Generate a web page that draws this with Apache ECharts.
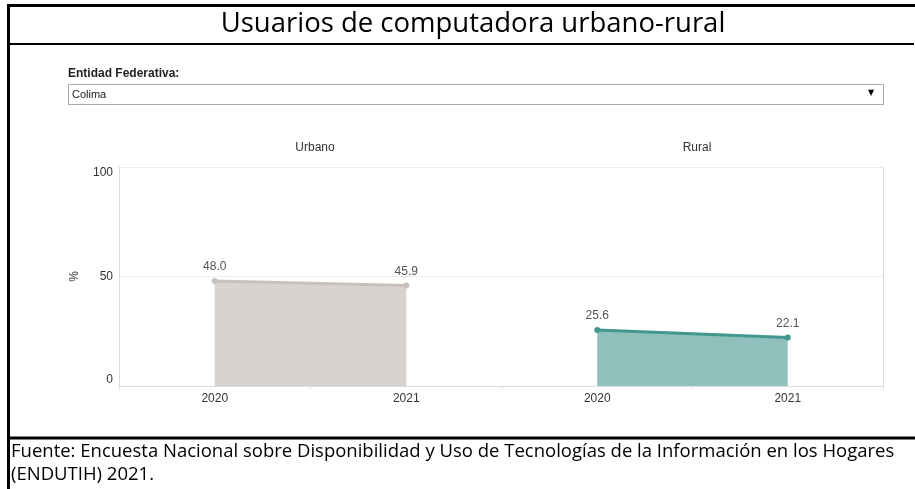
<!DOCTYPE html>
<html><head><meta charset="utf-8">
<script src="https://cdn.jsdelivr.net/npm/echarts@6/dist/echarts.min.js"></script>
<style>html,body{margin:0;padding:0;background:#fff}#c{width:915px;height:489px}</style>
</head><body><div id="c"></div>
<script>
var years = ['2020', '2021'];
var urbano = [48.0, 45.9];
var rural = [25.6, 22.1];
var yTicks = [0, 50, 100];
var facetNames = ['Urbano', 'Rural'];
var entidad = 'Colima';

var chart = echarts.init(document.getElementById('c'));
var labelFmt = function (p) { return p.value.toFixed(1); };
var gridTop = 167, gridBottom = 103;
function xAx(i) {
  return {
    type: 'category', gridIndex: i, data: years, boundaryGap: true,
    axisLine: { lineStyle: { color: '#dcdcdc' } },
    axisTick: { show: true, length: 4, lineStyle: { color: '#e3e3e3' } },
    axisLabel: { color: '#333', fontSize: 12, fontFamily: 'Liberation Sans', margin: 7 }
  };
}
chart.setOption({
  animation: false,
  title: [
    { text: 'Usuarios de computadora urbano-rural', left: 468, top: 5, textAlign: 'center',
      textStyle: { fontFamily: 'Open Sans', fontWeight: 'normal', fontSize: 27.5, color: '#000' } },
    { text: facetNames[0], left: 310, top: 137, textAlign: 'center',
      textStyle: { fontFamily: 'Liberation Sans', fontWeight: 'normal', fontSize: 12, color: '#333' } },
    { text: facetNames[1], left: 692, top: 137, textAlign: 'center',
      textStyle: { fontFamily: 'Liberation Sans', fontWeight: 'normal', fontSize: 12, color: '#333' } }
  ],
  grid: [
    { left: 119, right: 413, top: gridTop, bottom: gridBottom },
    { left: 502, right: 32, top: gridTop, bottom: gridBottom }
  ],
  xAxis: [xAx(0), xAx(1)],
  yAxis: [
    { type: 'value', gridIndex: 0, min: yTicks[0], max: yTicks[2], interval: 50,
      name: '%', nameLocation: 'middle', nameGap: 38, nameRotate: 90,
      nameTextStyle: { color: '#333', fontSize: 12, fontFamily: 'Liberation Sans' },
      axisLine: { show: true, lineStyle: { color: '#dcdcdc' } },
      axisTick: { show: false },
      axisLabel: { color: '#333', fontSize: 12, fontFamily: 'Liberation Sans', margin: 6,
        verticalAlignMinLabel: 'bottom', verticalAlignMaxLabel: 'top' },
      splitLine: { lineStyle: { color: '#ececec' } } },
    { type: 'value', gridIndex: 1, min: yTicks[0], max: yTicks[2], interval: 50, position: 'right',
      axisLine: { show: true, lineStyle: { color: '#dcdcdc' } },
      axisTick: { show: false }, axisLabel: { show: false },
      splitLine: { lineStyle: { color: '#ececec' } } }
  ],
  series: [
    { type: 'line', xAxisIndex: 0, yAxisIndex: 0, data: urbano,
      symbol: 'circle', symbolSize: 6,
      lineStyle: { color: '#c8c0bc', width: 3 }, itemStyle: { color: '#c8c0bc' },
      areaStyle: { color: '#d7d3d0', opacity: 1 },
      label: { show: true, position: 'top', distance: 5, color: '#555', fontSize: 12, fontFamily: 'Liberation Sans', formatter: labelFmt } },
    { type: 'line', xAxisIndex: 1, yAxisIndex: 1, data: rural,
      symbol: 'circle', symbolSize: 6,
      lineStyle: { color: '#42978f', width: 3 }, itemStyle: { color: '#42978f' },
      areaStyle: { color: '#90c0bc', opacity: 1 },
      label: { show: true, position: 'top', distance: 5, color: '#555', fontSize: 12, fontFamily: 'Liberation Sans', formatter: labelFmt } }
  ],
  graphic: [
    { type: 'line', shape: { x1: 8.5, y1: 4, x2: 8.5, y2: 489 }, style: { stroke: '#000', lineWidth: 3 } },
    { type: 'line', shape: { x1: 7, y1: 5.5, x2: 915, y2: 5.5 }, style: { stroke: '#000', lineWidth: 3 } },
    { type: 'line', shape: { x1: 7, y1: 44, x2: 914, y2: 44 }, style: { stroke: '#000', lineWidth: 2 } },
    { type: 'line', shape: { x1: 7, y1: 438, x2: 915, y2: 438 }, style: { stroke: '#000', lineWidth: 3 } },
    { type: 'text', left: 68, top: 68, style: { text: 'Entidad Federativa:', fill: '#222', font: 'bold 12px "Liberation Sans"' } },
    { type: 'rect', shape: { x: 68.5, y: 84.5, width: 815, height: 20 }, style: { fill: '#fff', stroke: '#aaa', lineWidth: 1 } },
    { type: 'text', left: 72, top: 89, style: { text: entidad, fill: '#222', font: '11px "Liberation Sans"' } },
    { type: 'text', left: 868, top: 89, style: { text: '▼', fill: '#000', font: '8px "DejaVu Sans"' } },
    { type: 'text', left: 11, top: 442, style: { text: 'Fuente: Encuesta Nacional sobre Disponibilidad y Uso de Tecnologías de la Información en los Hogares', fill: '#000', font: '18.5px "Open Sans"' } },
    { type: 'text', left: 11, top: 465, style: { text: '(ENDUTIH) 2021.', fill: '#000', font: '18.5px "Open Sans"' } }
  ]
});
</script></body></html>
